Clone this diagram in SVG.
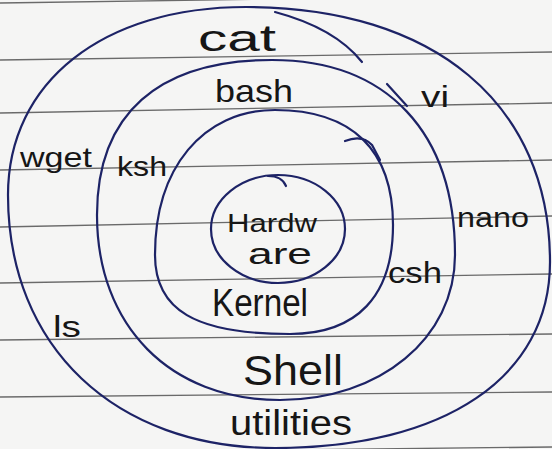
<svg xmlns="http://www.w3.org/2000/svg" width="552" height="449" viewBox="0 0 552 449">
<style>
.paper{fill:#f5f5f4}
.rule{stroke:#6a6a6a;stroke-width:1.3;fill:none}
.ring{stroke:#1d2366;stroke-width:2.2;fill:none;stroke-linecap:round}
.t{font-family:"Liberation Sans","DejaVu Sans",sans-serif;fill:#161616;text-anchor:middle}
</style>
<rect class="paper" x="0" y="0" width="552" height="449"/>
<g id="paper-lines">
<path class="rule" d="M0,3 L552,-5"/>
<path class="rule" d="M0,60 L552,52"/>
<path class="rule" d="M0,113 L552,103"/>
<path class="rule" d="M0,170 L552,160"/>
<path class="rule" d="M0,227 L552,216"/>
<path class="rule" d="M0,283 L552,274"/>
<path class="rule" d="M0,340 L552,334"/>
<path class="rule" d="M0,397 L552,392"/>
<path class="rule" d="M0,453 L552,447"/>
</g>
<g id="utilities">
<path class="ring" d="M246,7 C434,7 550,104 550,262 C550,377 445,448 275,448 C115,448 8,347 8,195 C8,82 103,7 246,7 Z"/>
<path class="ring" d="M275,12 Q335,28 362,62"/>
<text class="t" x="237" y="51" font-size="36" textLength="78" lengthAdjust="spacingAndGlyphs">cat</text>
<text class="t" x="435" y="107" font-size="30" textLength="28" lengthAdjust="spacingAndGlyphs">vi</text>
<text class="t" x="56" y="167" font-size="28" textLength="72" lengthAdjust="spacingAndGlyphs">wget</text>
<text class="t" x="493" y="227" font-size="28" textLength="72" lengthAdjust="spacingAndGlyphs">nano</text>
<text class="t" x="67" y="337" font-size="30" textLength="28" lengthAdjust="spacingAndGlyphs">ls</text>
<text class="t" x="291" y="435" font-size="35" textLength="122" lengthAdjust="spacingAndGlyphs">utilities</text>
</g>
<g id="shell">
<path class="ring" d="M272,60 C387,60 455,132 455,255 C455,338 380,400 280,400 C170,400 97,326 97,215 C97,114 158,60 272,60 Z"/>
<path class="ring" d="M387,84 L407,106"/>
<text class="t" x="254" y="102" font-size="32" textLength="78" lengthAdjust="spacingAndGlyphs">bash</text>
<text class="t" x="142" y="176" font-size="28" textLength="50" lengthAdjust="spacingAndGlyphs">ksh</text>
<text class="t" x="415" y="283" font-size="30" textLength="54" lengthAdjust="spacingAndGlyphs">csh</text>
<text class="t" x="293" y="385" font-size="42" textLength="100" lengthAdjust="spacingAndGlyphs">Shell</text>
</g>
<g id="kernel">
<path class="ring" d="M275,110 C352,110 393,150 393,225 C393,296 357,334 290,334 C195,334 155,310 155,255 C155,168 203,110 275,110 Z"/>
<path class="ring" d="M345,141 Q362,134 372,145 L380,160"/>
<text class="t" x="260" y="316" font-size="38" textLength="96" lengthAdjust="spacingAndGlyphs">Kernel</text>
</g>
<g id="hardware">
<ellipse class="ring" cx="278" cy="229" rx="67" ry="54"/>
<path class="ring" d="M268,176 Q282,176 286,186"/>
<text class="t" x="272" y="232" font-size="26" textLength="90" lengthAdjust="spacingAndGlyphs">Hardw</text>
<text class="t" x="280" y="264" font-size="30" textLength="64" lengthAdjust="spacingAndGlyphs">are</text>
</g>
</svg>
